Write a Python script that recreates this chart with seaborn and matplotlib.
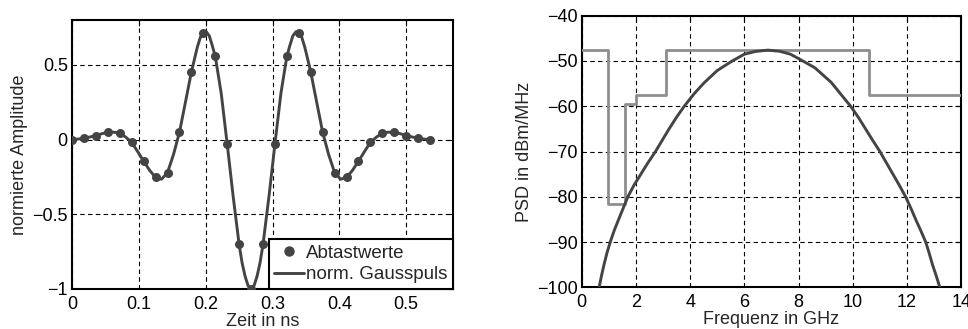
import numpy as np
import pandas as pd
import matplotlib
matplotlib.use("Agg")
import matplotlib.pyplot as plt
import seaborn as sns
from matplotlib.lines import Line2D

# ---------------- data ----------------
# sampled values (sampling interval 1/56 ns)
sample_idx = list(range(31))
sample_vals = [0.0, 0.009, 0.027, 0.049, 0.044, -0.018, -0.144, -0.253, -0.220, 0.049,
               0.453, 0.716, 0.558, -0.029, -0.702, -1.0, -0.702, -0.029, 0.558, 0.716,
               0.453, 0.049, -0.220, -0.253, -0.144, -0.018, 0.044, 0.049, 0.027, 0.009, 0.0]
sample_step_ns = 1 / 56

# continuous pulse, read at (fractional) sample positions
curve_idx = [0, 0.5, 1, 1.5, 2, 2.5, 3, 3.5, 4, 4.5, 5, 5.5, 6, 6.5, 7, 7.5, 8, 8.5, 9, 9.5,
             10, 10.5, 10.75, 11, 11.25, 11.5, 11.75, 12, 12.5, 13, 13.5, 14, 14.25, 14.5, 14.75,
             15, 15.25, 15.5, 15.75, 16, 16.5, 17, 17.5, 18, 18.25, 18.5, 18.75, 19, 19.25,
             19.5, 20, 20.5, 21, 21.5, 22, 22.5, 23, 23.5, 24, 24.5, 25, 25.5, 26, 26.5, 27,
             27.5, 28, 28.5, 29, 29.5, 30]
curve_vals = [0.0, 0.004, 0.009, 0.018, 0.027, 0.040, 0.049, 0.050, 0.044, 0.017,
              -0.018, -0.080, -0.144, -0.205, -0.253, -0.265, -0.220, -0.100, 0.049, 0.250,
              0.453, 0.620, 0.685, 0.716, 0.722, 0.695, 0.630, 0.558, 0.310, -0.029, -0.380,
              -0.702, -0.826, -0.915, -0.978, -1.0, -0.978, -0.915, -0.826, -0.702, -0.380,
              -0.029, 0.310, 0.558, 0.630, 0.695, 0.722, 0.716, 0.685, 0.620, 0.453, 0.250,
              0.049, -0.100, -0.220, -0.265, -0.253, -0.205, -0.144, -0.080, -0.018, 0.017,
              0.044, 0.050, 0.049, 0.040, 0.027, 0.018, 0.009, 0.004, 0.0]

# spectral mask (GHz, dBm/MHz)
mask_f = [0, 0.96, 1.61, 1.99, 3.1, 10.6, 14]
mask_db = [-47.6, -81.6, -59.6, -57.6, -47.6, -57.6, -57.6]

# PSD of pulse
psd_f = [0.64, 0.73, 0.82, 0.93, 1.05, 1.2, 1.36, 1.53, 1.70, 1.93, 2.18, 2.44, 2.72, 2.97,
         3.22, 3.5, 3.78, 4.15, 4.5, 5.0, 5.55, 6.0, 6.4, 6.86, 7.3, 7.7, 8.13, 8.6, 9.2,
         9.92, 10.2, 10.47, 10.73, 11.0, 11.24, 11.48, 11.72, 11.95, 12.14, 12.32, 12.51,
         12.69, 12.82, 12.94, 13.08, 13.21]
psd_db = [-100, -97.4, -95, -92.4, -90, -87.4, -85, -82.5, -80, -77.4, -75, -72.5, -70,
          -67.5, -65, -62.4, -60, -57.2, -54.9, -52.1, -50.0, -48.5, -47.9, -47.6, -47.85,
          -48.5, -49.9, -51.5, -54.7, -60, -62.4, -65, -67.5, -70, -72.5, -75, -77.5, -80,
          -82.5, -85, -87.5, -90, -92.5, -95, -97.5, -100]

# ---------------- style ----------------
sns.set_style("white")
plt.rcParams["font.family"] = ["Liberation Sans", "DejaVu Sans"]
plt.rcParams["font.size"] = 13
plt.rcParams["axes.labelsize"] = 13
plt.rcParams["axes.unicode_minus"] = True

dark = "#444444"
light = "#8e8e8e"

fig = plt.figure(figsize=(9.68, 3.29), dpi=100)
ax1 = fig.add_axes([0.0744, 0.1216, 0.3936, 0.817])
ax2 = fig.add_axes([0.601, 0.1267, 0.392, 0.8255])

samples = pd.DataFrame({"t": np.array(sample_idx) * sample_step_ns, "v": sample_vals})
curve = pd.DataFrame({"t": np.array(curve_idx) * sample_step_ns, "v": curve_vals})

sns.lineplot(data=curve, x="t", y="v", ax=ax1, color=dark, lw=2.1, sort=False,
             estimator=None, zorder=3)
sns.scatterplot(data=samples, x="t", y="v", ax=ax1, color=dark, s=42, edgecolor=dark,
                linewidth=0, zorder=4)

ax1.set_xlim(0, 0.57)
ax1.set_ylim(-1, 0.8)
ax1.set_xticks([0, 0.1, 0.2, 0.3, 0.4, 0.5])
ax1.set_xticklabels(["0", "0.1", "0.2", "0.3", "0.4", "0.5"])
ax1.set_yticks([-1, -0.5, 0, 0.5])
ax1.set_yticklabels(["\u22121", "\u22120.5", "0", "0.5"])
ax1.set_xlabel("Zeit in ns", labelpad=0)
ax1.set_ylabel("normierte Amplitude", labelpad=3)

handles = [Line2D([], [], marker="o", ls="none", color=dark, markersize=6.5),
           Line2D([], [], color=dark, lw=2.1)]
leg = ax1.legend(handles, ["Abtastwerte", "norm. Gausspuls"], loc="lower right",
                 borderaxespad=0, fancybox=False, framealpha=1, edgecolor="black",
                 handlelength=1.6, handletextpad=0.1, borderpad=0.3, labelspacing=0.25,
                 fontsize=13.5)
leg.get_frame().set_linewidth(1.5)
leg.set_zorder(10)

mask = pd.DataFrame({"f": mask_f, "db": mask_db})
psd = pd.DataFrame({"f": psd_f, "db": psd_db})
sns.lineplot(data=mask, x="f", y="db", ax=ax2, color=light, lw=2.0, drawstyle="steps-post",
             estimator=None, sort=False, zorder=3)
sns.lineplot(data=psd, x="f", y="db", ax=ax2, color=dark, lw=2.1, estimator=None,
             sort=False, zorder=4)
ax2.set_xlim(0, 14)
ax2.set_ylim(-100, -40)
ax2.set_xticks(range(0, 15, 2))
ax2.set_yticks(range(-100, -39, 10))
ax2.set_yticklabels([str(v).replace("-", "\u2212") for v in range(-100, -39, 10)])
ax2.set_xlabel("Frequenz in GHz", labelpad=0)
ax2.set_ylabel("PSD in dBm/MHz", labelpad=3)

for ax in (ax1, ax2):
    ax.grid(True, color="black", ls=(0, (4, 3)), lw=0.8)
    for s in ax.spines.values():
        s.set_visible(True)
        s.set_color("black")
        s.set_linewidth(1.5)
    ax.tick_params(direction="in", length=4, width=0.8, top=True, right=True,
                   labelsize=13, colors="black")
    ax.tick_params(axis="x", pad=5)
    ax.tick_params(axis="y", pad=3)
    ax.set_axisbelow(True)

fig.savefig("out.png", dpi=100)
